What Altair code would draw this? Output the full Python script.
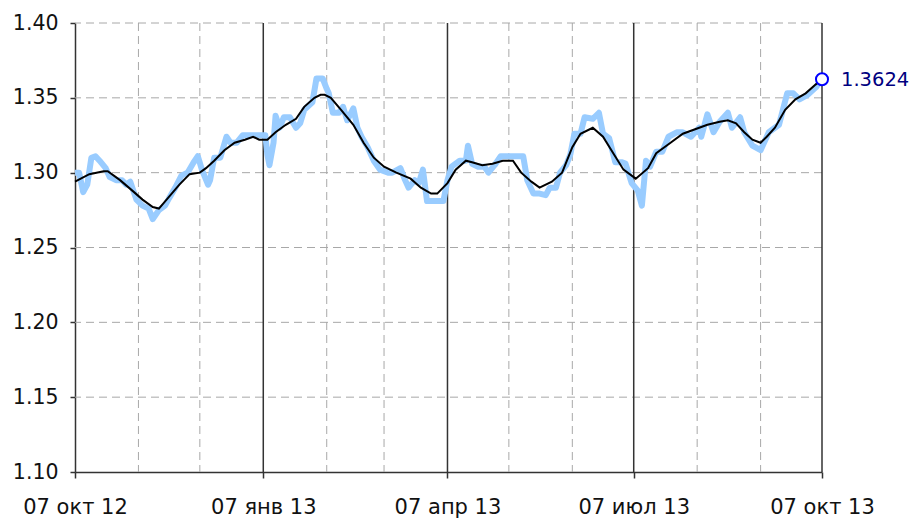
import altair as alt
import pandas as pd

# Daily rate (light blue), day offsets from 07 Oct 2012
raw_days = [0, 2, 4, 6, 8, 10, 12, 15, 17, 20, 23, 25, 27, 30, 33, 36, 38, 41, 44, 46,
            49, 52, 55, 58, 60, 62, 65, 66, 68, 71, 74, 76, 79, 82, 86, 89, 93, 94, 95, 97,
            98, 100, 102, 105, 108, 110, 112, 116, 118, 121, 123, 124, 126, 129, 131, 133,
            136, 138, 140, 143, 146, 149, 153, 155, 159, 161, 163, 166, 168, 170, 172, 176,
            180, 182, 184, 188, 191, 192, 194, 197, 200, 202, 205, 208, 214, 219, 221, 224,
            227, 230, 232, 235, 237, 240, 242, 244, 247, 249, 253, 256, 258, 261, 264, 267,
            269, 272, 275, 277, 279, 281, 284, 287, 290, 294, 297, 301, 305, 306, 309, 312,
            315, 319, 321, 325, 327, 331, 335, 339, 344, 348, 351, 354, 358, 362, 365]
raw_vals = [1.300, 1.300, 1.287, 1.292, 1.310, 1.311, 1.308, 1.303, 1.297, 1.295, 1.295,
            1.292, 1.294, 1.282, 1.278, 1.276, 1.269, 1.275, 1.278, 1.283, 1.290, 1.298,
            1.300, 1.307, 1.311, 1.302, 1.292, 1.295, 1.310, 1.310, 1.324, 1.320, 1.320,
            1.325, 1.325, 1.325, 1.325, 1.312, 1.305, 1.320, 1.338, 1.330, 1.337, 1.337,
            1.330, 1.333, 1.342, 1.347, 1.363, 1.363, 1.356, 1.353, 1.340, 1.340, 1.344,
            1.335, 1.343, 1.330, 1.324, 1.317, 1.308, 1.302, 1.300, 1.300, 1.303, 1.296,
            1.290, 1.295, 1.293, 1.302, 1.281, 1.281, 1.281, 1.295, 1.304, 1.308, 1.308,
            1.318, 1.306, 1.304, 1.304, 1.300, 1.305, 1.311, 1.311, 1.311, 1.295, 1.286,
            1.286, 1.285, 1.290, 1.290, 1.300, 1.305, 1.312, 1.326, 1.326, 1.337, 1.336,
            1.340, 1.326, 1.323, 1.307, 1.307, 1.306, 1.293, 1.288, 1.278, 1.308, 1.304,
            1.314, 1.314, 1.324, 1.327, 1.327, 1.324, 1.330, 1.324, 1.339, 1.327, 1.334,
            1.340, 1.330, 1.337, 1.327, 1.318, 1.315, 1.327, 1.332, 1.353, 1.353, 1.349,
            1.352, 1.357, 1.3624]

# Smoothed rate (black)
ma_days = [0, 7, 14, 16, 22, 28, 33, 38, 41, 46, 51, 56, 61, 64, 68, 73, 78, 83, 87, 90,
           94, 98, 103, 108, 112, 117, 120, 122, 125, 130, 136, 141, 146, 151, 157, 164,
           169, 174, 177, 182, 186, 191, 194, 199, 204, 209, 214, 218, 223, 227, 233, 238,
           243, 247, 253, 258, 263, 268, 274, 280, 284, 291, 297, 305, 309, 315, 319, 323,
           327, 331, 335, 338, 342, 347, 352, 357, 362, 365]
ma_vals = [1.294, 1.299, 1.301, 1.301, 1.295, 1.288, 1.282, 1.277, 1.276, 1.284, 1.292,
           1.299, 1.300, 1.303, 1.308, 1.315, 1.320, 1.322, 1.324, 1.322, 1.322, 1.327,
           1.332, 1.336, 1.344, 1.350, 1.352, 1.352, 1.350, 1.342, 1.332, 1.320, 1.310,
           1.304, 1.300, 1.296, 1.290, 1.286, 1.286, 1.293, 1.302, 1.308, 1.307, 1.305,
           1.306, 1.308, 1.308, 1.300, 1.294, 1.290, 1.294, 1.300, 1.317, 1.326, 1.330,
           1.324, 1.313, 1.302, 1.296, 1.303, 1.313, 1.320, 1.326, 1.330, 1.332, 1.334,
           1.335, 1.333, 1.327, 1.322, 1.320, 1.324, 1.330, 1.342, 1.349, 1.353, 1.359,
           1.3624]

start_date = "2012-10-07"
end_date = "2013-10-07"
last_value = 1.3624
month_grid = ["2012-11-07", "2012-12-07", "2013-02-07", "2013-03-07", "2013-05-07",
              "2013-06-07", "2013-08-07", "2013-09-07"]
quarter_grid = ["2013-01-07", "2013-04-07", "2013-07-07", "2013-10-07"]
y_grid = [1.15, 1.20, 1.25, 1.30, 1.35, 1.40]
y_ticks = [1.10, 1.15, 1.20, 1.25, 1.30, 1.35, 1.40]
ru_months = ['янв', 'фев', 'мар', 'апр', 'май', 'июн', 'июл', 'авг', 'сен', 'окт', 'ноя', 'дек']

base = pd.Timestamp(start_date)
raw_df = pd.DataFrame({"date": [(base + pd.Timedelta(days=d)).strftime("%Y-%m-%dT00:00:00") for d in raw_days],
                       "v": raw_vals})
ma_df = pd.DataFrame({"date": [(base + pd.Timedelta(days=d)).strftime("%Y-%m-%dT00:00:00") for d in ma_days],
                      "v": ma_vals})
mg_df = pd.DataFrame({"date": [d + "T00:00:00" for d in month_grid]})
qg_df = pd.DataFrame({"date": [d + "T00:00:00" for d in quarter_grid]})
yg_df = pd.DataFrame({"v": y_grid})
end_df = pd.DataFrame({"date": [end_date + "T00:00:00"], "v": [last_value], "label": [f"{last_value:.4f}"]})

def dt(s):
    y, m, d = map(int, s.split("-"))
    return alt.DateTime(year=y, month=m, date=d)

month_arr = "[" + ",".join(f"'{m}'" for m in ru_months) + "]"
label_expr = ("timeFormat(datum.value, '%d') + ' ' + " + month_arr +
              "[month(datum.value)] + ' ' + timeFormat(datum.value, '%y')")

x_scale = alt.Scale(domain=[dt(start_date), dt(end_date)], nice=False)
y_scale = alt.Scale(domain=[1.10, 1.40], nice=False, zero=False)

x_axis = alt.Axis(values=[dt(start_date)] + [dt(q) for q in quarter_grid], labelExpr=label_expr,
                  title=None, grid=False, tickSize=6, labelPadding=35, labelBaseline="alphabetic",
                  labelFlush=False, labelOverlap=False, labelFontSize=21, labelColor="#111",
                  domainColor="#333", tickColor="#333", domainWidth=1.5, tickWidth=1.5)
y_axis = alt.Axis(values=y_ticks, format=".2f", title=None, grid=False, tickSize=5,
                  labelPadding=12, labelFontSize=20.5, labelColor="#111",
                  domainColor="#333", tickColor="#333", domainWidth=1.5, tickWidth=1.5)

hgrid = alt.Chart(yg_df).mark_rule(color="#a8a8a8", strokeWidth=1, strokeDash=[8, 5]).encode(
    y=alt.Y("v:Q", scale=y_scale, axis=y_axis))
vgrid = alt.Chart(mg_df).mark_rule(color="#a8a8a8", strokeWidth=1, strokeDash=[8, 5]).encode(
    x=alt.X("date:T", scale=x_scale, axis=x_axis))
vsolid = alt.Chart(qg_df).mark_rule(color="#333", strokeWidth=1.5).encode(
    x=alt.X("date:T", scale=x_scale))
raw_line = alt.Chart(raw_df).mark_line(color="#99ccff", strokeWidth=6, strokeJoin="round").encode(
    x=alt.X("date:T", scale=x_scale), y=alt.Y("v:Q", scale=y_scale))
ma_line = alt.Chart(ma_df).mark_line(color="#000000", strokeWidth=2).encode(
    x=alt.X("date:T", scale=x_scale), y=alt.Y("v:Q", scale=y_scale))
end_pt = alt.Chart(end_df).mark_point(shape="circle", size=145, filled=True, fill="white",
                                      stroke="#0000ff", strokeWidth=2, opacity=1).encode(
    x=alt.X("date:T", scale=x_scale), y=alt.Y("v:Q", scale=y_scale))
end_txt = alt.Chart(end_df).mark_text(align="left", baseline="middle", dx=19, dy=1, fontSize=19.5,
                                      color="#000080").encode(
    x=alt.X("date:T", scale=x_scale), y=alt.Y("v:Q", scale=y_scale), text="label:N")

chart = alt.layer(hgrid, vgrid, vsolid, raw_line, ma_line, end_pt, end_txt).properties(
    width=747, height=449,
    autosize=alt.AutoSizeParams(type="none"),
    padding={"left": 67, "top": 15, "right": 89, "bottom": 48},
).configure(font="DejaVu Sans").configure_view(stroke=None)

chart.save("out.html", embed_options={"renderer": "svg", "actions": False})
